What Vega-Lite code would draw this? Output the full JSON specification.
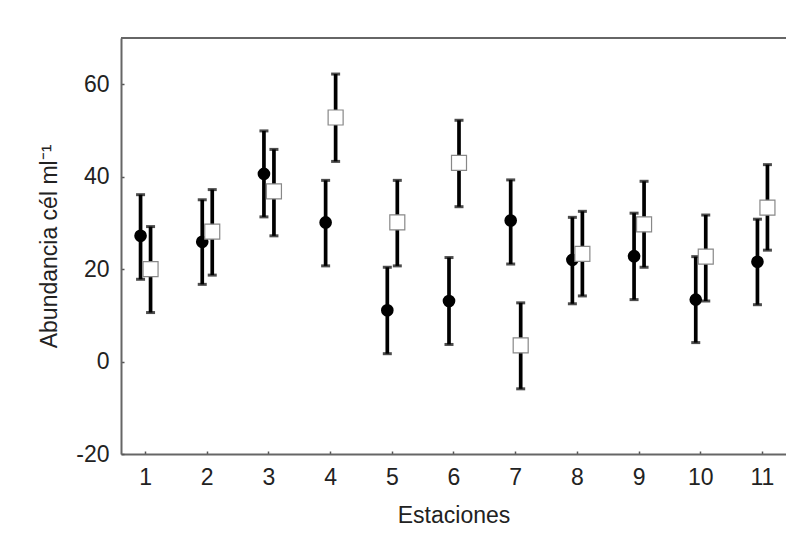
{
  "$schema": "https://vega.github.io/schema/vega-lite/v6.json",
  "width": 665,
  "height": 416,
  "autosize": {"type": "none"},
  "padding": {"left": 121, "top": 38, "right": 0, "bottom": 92},
  "background": "white",
  "config": {
    "view": {"stroke": null},
    "font": "Liberation Sans",
    "axis": {
      "labelFont": "Liberation Sans",
      "titleFont": "Liberation Sans",
      "labelFontSize": 23,
      "titleFontSize": 23,
      "titleFontWeight": "normal",
      "labelColor": "#222",
      "titleColor": "#222",
      "domainColor": "#666",
      "domainWidth": 2,
      "tickColor": "#555",
      "tickWidth": 1.5,
      "grid": false
    }
  },
  "data": {
    "values": [
      {"estacion": 1, "grupo": "A", "media": 27.2, "lo": 17.8, "hi": 36.1},
      {"estacion": 2, "grupo": "A", "media": 25.9, "lo": 16.7, "hi": 35.0},
      {"estacion": 3, "grupo": "A", "media": 40.6, "lo": 31.3, "hi": 49.9},
      {"estacion": 4, "grupo": "A", "media": 30.1, "lo": 20.7, "hi": 39.2},
      {"estacion": 5, "grupo": "A", "media": 11.1, "lo": 1.7, "hi": 20.4},
      {"estacion": 6, "grupo": "A", "media": 13.1, "lo": 3.7, "hi": 22.5},
      {"estacion": 7, "grupo": "A", "media": 30.5, "lo": 21.1, "hi": 39.3},
      {"estacion": 8, "grupo": "A", "media": 22.0, "lo": 12.5, "hi": 31.2},
      {"estacion": 9, "grupo": "A", "media": 22.8, "lo": 13.4, "hi": 32.1},
      {"estacion": 10, "grupo": "A", "media": 13.4, "lo": 4.1, "hi": 22.7},
      {"estacion": 11, "grupo": "A", "media": 21.6, "lo": 12.3, "hi": 30.8},
      {"estacion": 1, "grupo": "B", "media": 20.0, "lo": 10.6, "hi": 29.2},
      {"estacion": 2, "grupo": "B", "media": 28.1, "lo": 18.7, "hi": 37.2},
      {"estacion": 3, "grupo": "B", "media": 36.8, "lo": 27.2, "hi": 45.9},
      {"estacion": 4, "grupo": "B", "media": 52.8, "lo": 43.3, "hi": 62.2},
      {"estacion": 5, "grupo": "B", "media": 30.1, "lo": 20.7, "hi": 39.2},
      {"estacion": 6, "grupo": "B", "media": 43.0, "lo": 33.5, "hi": 52.2},
      {"estacion": 7, "grupo": "B", "media": 3.5, "lo": -5.9, "hi": 12.7},
      {"estacion": 8, "grupo": "B", "media": 23.3, "lo": 14.2, "hi": 32.5},
      {"estacion": 9, "grupo": "B", "media": 29.7, "lo": 20.4, "hi": 39.0},
      {"estacion": 10, "grupo": "B", "media": 22.7, "lo": 13.1, "hi": 31.7},
      {"estacion": 11, "grupo": "B", "media": 33.3, "lo": 24.1, "hi": 42.6}
    ]
  },
  "encoding": {
    "x": {
      "field": "estacion",
      "type": "quantitative",
      "scale": {"domain": [0.61, 11.39], "nice": false, "zero": false},
      "axis": {
        "title": "Estaciones",
        "values": [1, 2, 3, 4, 5, 6, 7, 8, 9, 10, 11],
        "tickSize": -3,
        "labelPadding": 15,
        "titlePadding": 15,
        "labelFlush": false,
        "labelOverlap": false
      }
    }
  },
  "layer": [
    {
      "mark": {"type": "rule", "color": "#666", "strokeWidth": 2},
      "encoding": {"x": null, "y": {"datum": 70, "type": "quantitative"}}
    },
    {
      "transform": [{"filter": "datum.grupo === 'A'"}],
      "mark": {"type": "rule", "color": "black", "strokeWidth": 3.7, "xOffset": -4.5},
      "encoding": {
        "y": {
          "field": "lo",
          "type": "quantitative",
          "scale": {"domain": [-20, 70], "nice": false, "zero": false},
          "axis": {
            "title": "Abundancia cél ml⁻¹",
            "values": [-20, 0, 20, 40, 60],
            "labelExpr": "datum.value < 0 ? '-' + abs(datum.value) : '' + datum.value",
            "tickSize": -3,
            "labelPadding": 15,
            "titlePadding": 14
          }
        },
        "y2": {"field": "hi"}
      }
    },
    {
      "transform": [{"filter": "datum.grupo === 'A'"}],
      "mark": {"type": "tick", "color": "black", "orient": "horizontal", "size": 9, "thickness": 3, "xOffset": -4.5},
      "encoding": {"y": {"field": "lo", "type": "quantitative"}}
    },
    {
      "transform": [{"filter": "datum.grupo === 'A'"}],
      "mark": {"type": "tick", "color": "black", "orient": "horizontal", "size": 9, "thickness": 3, "xOffset": -4.5},
      "encoding": {"y": {"field": "hi", "type": "quantitative"}}
    },
    {
      "transform": [{"filter": "datum.grupo === 'A'"}],
      "mark": {"type": "point", "shape": "circle", "filled": true, "color": "black", "opacity": 1, "size": 160, "xOffset": -4.5},
      "encoding": {"y": {"field": "media", "type": "quantitative"}}
    },
    {
      "transform": [{"filter": "datum.grupo === 'B'"}],
      "mark": {"type": "rule", "color": "black", "strokeWidth": 3.7, "xOffset": 5.5},
      "encoding": {"y": {"field": "lo", "type": "quantitative"}, "y2": {"field": "hi"}}
    },
    {
      "transform": [{"filter": "datum.grupo === 'B'"}],
      "mark": {"type": "tick", "color": "black", "orient": "horizontal", "size": 9, "thickness": 3, "xOffset": 5.5},
      "encoding": {"y": {"field": "lo", "type": "quantitative"}}
    },
    {
      "transform": [{"filter": "datum.grupo === 'B'"}],
      "mark": {"type": "tick", "color": "black", "orient": "horizontal", "size": 9, "thickness": 3, "xOffset": 5.5},
      "encoding": {"y": {"field": "hi", "type": "quantitative"}}
    },
    {
      "transform": [{"filter": "datum.grupo === 'B'"}],
      "mark": {"type": "point", "shape": "square", "filled": true, "fill": "white", "stroke": "#888", "strokeWidth": 1.2, "opacity": 1, "size": 225, "xOffset": 5.5},
      "encoding": {"y": {"field": "media", "type": "quantitative"}}
    }
  ]
}
